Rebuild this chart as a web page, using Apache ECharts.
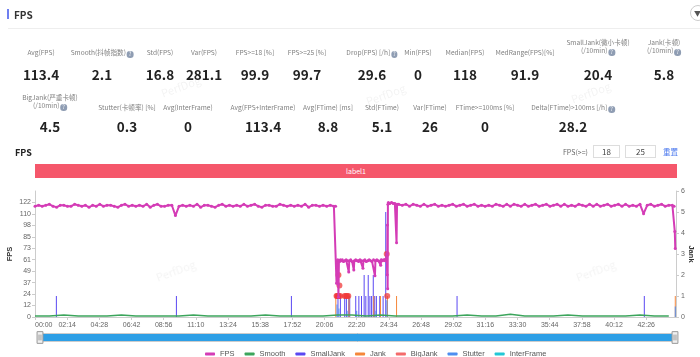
<!DOCTYPE html>
<html><head><meta charset="utf-8">
<script src="https://cdn.jsdelivr.net/npm/echarts@6/dist/echarts.min.js"></script>
<style>
html,body{margin:0;padding:0;width:700px;height:357px;background:#fff;overflow:hidden;font-family:"Noto Sans CJK SC","Open Sans",sans-serif;}
#chart{position:absolute;left:0;top:0;width:700px;height:357px;}
.ov{position:absolute;z-index:2;white-space:nowrap;}
.lab{font-size:6.6px;color:#808080;text-align:center;transform:translateX(-50%);line-height:8px;}
.val{font-size:13.5px;font-weight:bold;color:#222;text-align:center;transform:translate(-50%,-50%);}
.q{display:inline-block;width:6.5px;height:6.5px;border-radius:50%;background:#8f9db3;color:#fff;font-size:5.5px;line-height:6.5px;text-align:center;vertical-align:-1px;margin-left:1px;}
.wm{position:absolute;z-index:1;font-size:11px;color:rgba(0,0,0,0.05);transform:rotate(-20deg);}
</style></head>
<body>
<div id="chart"></div>
<div class="ov" style="left:7px;top:9px;width:2px;height:10px;background:#6f7ff0"></div>
<div class="ov" style="left:14px;top:7px;font-size:10px;font-weight:bold;color:#333">FPS</div>
<div class="ov" style="left:8px;top:28px;width:692px;height:1px;background:#eee"></div>
<div class="ov" style="left:690px;top:5px;width:14px;height:14px;border:1px solid #ccc;border-radius:50%;font-size:7px;line-height:14px;text-indent:3px;color:#555">▼</div>
<div id="stats"></div>
<div class="ov" style="left:15px;top:146px;font-size:9px;font-weight:bold;color:#222">FPS</div>
<div class="ov" style="left:563px;top:147px;font-size:7px;color:#666">FPS(&gt;=)</div>
<div class="ov" style="left:593px;top:145px;width:25px;height:11px;border:1px solid #ddd;font-size:8px;line-height:11px;text-align:center;color:#444">18</div>
<div class="ov" style="left:625px;top:145px;width:29px;height:11px;border:1px solid #ddd;font-size:8px;line-height:11px;text-align:center;color:#444">25</div>
<div class="ov" style="left:663px;top:146px;font-size:7.5px;color:#4a78ee">重置</div>
<div class="ov" style="left:35px;top:164px;width:642px;height:14px;background:#f5576b;color:#fff;font-size:7px;line-height:14px;text-align:center">label1</div>
<div class="wm" style="left:160px;top:78px">PerfDog</div>
<div class="wm" style="left:365px;top:86px">PerfDog</div>
<div class="wm" style="left:570px;top:84px">PerfDog</div>
<div class="wm" style="left:155px;top:262px">PerfDog</div>
<div class="wm" style="left:575px;top:262px">PerfDog</div>
<script>
// ---- stats ----
const statLabelsRow1 = ["Avg(FPS)","Smooth(抖帧指数)?","Std(FPS)","Var(FPS)","FPS>=18 [%]","FPS>=25 [%]","Drop(FPS) [/h]?","Min(FPS)","Median(FPS)","MedRange(FPS)[%]","SmallJank(微小卡顿)|(/10min)?","Jank(卡顿)|(/10min)?"];
const statValuesRow1 = ["113.4","2.1","16.8","281.1","99.9","99.7","29.6","0","118","91.9","20.4","5.8"];
const statLabelsRow2 = ["BigJank(严重卡顿)|(/10min)?","Stutter(卡顿率) [%]","Avg(InterFrame)","Avg(FPS+InterFrame)","Avg(FTime) [ms]","Std(FTime)","Var(FTime)","FTime>=100ms [%]","Delta(FTime)>100ms [/h]?"];
const statValuesRow2 = ["4.5","0.3","0","113.4","8.8","5.1","26","0","28.2"];

// ---- chart data ----
const fpsStep = 15;
const fpsSeg1Start = 0;
const fpsSeg1 = [118,119,118,119,120,118,117,119,119,118,
118,120,119,118,119,117,119,118,120,118,
119,119,118,117,119,120,118,119,118,119,
118,120,117,119,120,118,118,119,119,108,
118,119,118,119,118,120,117,119,119,118,
117,119,120,118,119,118,119,118,120,118,
119,120,118,117,119,119,118,118,120,119,
118,119,118,119,118,120,117,119,119,118,
119,118,119,118];
const fpsDrop = [[1252,118],[1256,36],[1258,58],[1261,61],[1263,35],[1264,21],[1266,60],[1269,59],[1272,61],[1276,60],[1280,61],[1285,59],[1290,60],[1296,61],[1302,60],[1307,48],[1309,60],[1315,61],[1321,59],[1328,50],[1330,60],[1336,61],[1342,60],[1348,59],[1354,61],[1360,60],[1366,52],[1368,60],[1374,61],[1380,59],[1386,60],[1392,61],[1398,60],[1404,59],[1410,61],[1416,44],[1418,60],[1424,61],[1430,60],[1436,59],[1440,55],[1442,61],[1448,60],[1454,61],[1459,60],[1463,62],[1465,67],[1467,45],[1468,98],[1469,30],[1470,120],[1472,122],[1478,121],[1485,122],[1492,121],[1499,121],[1506,79],[1508,120]];
const fpsSeg2Start = 1515;
const fpsSeg2 = [120,119,120,118,120,119,118,120,118,119,
120,118,119,118,119,120,118,119,120,118,
119,120,118,119,118,119,118,120,119,118,
120,118,120,119,118,120,118,119,120,118,
119,120,118,119,120,118,120,118,119,118,
120,119,118,120,118,120,118,119,120,118,
119,120,118,120,118,119,118,120,110,119,
120,118,119,120,118,119,119];
const fpsEnd = [[2662,118],[2665,91],[2667,73]];

const smoothStep = 60;
const smoothV = [1,1,2,1,1,1,2,1,1,1, 1,2,1,1,1,1,2,1,1,1, 1,2,2,1,2,1,1,1,1,1, 2,1,1,3,1,1,1,2,1,1, 1,1,2,1,1];

const smallJankT = [89,589,1068,1262,1272,1290,1297,1307,1311,1336,1349,1360,1371,1378,1388,1395,1402,1409,1415,1422,1436,1450,1461,1758,2538];
const smallJankV = [1,1,1,1,1,1,1,1,1,1,1,1,2,1,2,1,1,2,1,1,1,1,5,1,1];
const jankT = [1253,1308,1411,1439,1468,1506,2667];
const jankV = [1,1,1,1,1,1,1];
const bigJankT = [1256,1259,1262,1264,1266,1268,1271,1290,1295,1300,1305,1465,1467];
const bigJankV = [1,1,1,2,1,1.5,1,1,1,1,1,3,1];
const stutterT = [1258,1266,1300,1340,1420,1466,2667];
const stutterV = [0.6,0.4,0.3,0.3,0.3,0.8,0.5];
const interFrameV = [];

const xTickInterval = 134;
const xMax = 2670;

// ---- render stats ----
const st = document.getElementById('stats');
function lab(txt){
  return txt.split('|').map(s=>s.replace(/\?$/,'<span class="q">?</span>')).join('<br>');
}
function addRow(labels, values, xs, labY, labY2, valY){
  labels.forEach((l,i)=>{
    const d=document.createElement('div');
    d.className='ov lab';
    const two = l.indexOf('|')>=0;
    d.style.left=xs[i]+'px';
    d.style.top=(two?labY2:labY)+'px';
    d.innerHTML=lab(l);
    st.appendChild(d);
    const v=document.createElement('div');
    v.className='ov val';
    v.style.left=xs[i]+'px';
    v.style.top=valY+'px';
    v.textContent=values[i];
    st.appendChild(v);
  });
}
addRow(statLabelsRow1, statValuesRow1, [41,102,160,204,255,307,372,418,465,525,598,664], 48, 38, 74);
addRow(statLabelsRow2, statValuesRow2, [50,127,188,263,328,382,430,485,573], 103, 93, 126);

// ---- chart ----
const C = {fps:'#d43cb6', smooth:'#3ca55c', small:'#5a48f2', jank:'#f5873a', big:'#f03a3a', stutter:'#4d8ef0', inter:'#22c7d6'};
const fpsData = fpsSeg1.map((v,i)=>[fpsSeg1Start+i*fpsStep, v])
  .concat(fpsDrop)
  .concat(fpsSeg2.map((v,i)=>[fpsSeg2Start+i*fpsStep, v]))
  .concat(fpsEnd);
const smoothData = smoothV.map((v,i)=>[i*smoothStep, v]);
const pairs = (t,v)=>t.map((x,i)=>[x, v[i]]);
function fmt(v){const m=Math.floor(v/60), s=Math.round(v%60);return String(m).padStart(2,'0')+':'+String(s).padStart(2,'0');}
const axisCol='#ccc', labCol='#666';
const chart = echarts.init(document.getElementById('chart'));
chart.setOption({
  animation:false,
  grid:{left:35,right:24,top:191,bottom:40,containLabel:false,outerBoundsMode:'none'},
  legend:{left:200,top:345,itemWidth:10,itemHeight:3,itemGap:10,icon:'roundRect',
    textStyle:{fontSize:7.5,color:'#555'},
    data:['FPS','Smooth','SmallJank','Jank','BigJank','Stutter','InterFrame']},
  xAxis:{type:'value',min:0,max:xMax,interval:xTickInterval,
    axisLine:{lineStyle:{color:axisCol}},axisTick:{length:3,lineStyle:{color:axisCol}},
    axisLabel:{formatter:fmt,fontSize:7,color:labCol,margin:5,showMaxLabel:false,alignMinLabel:'left'},
    splitLine:{show:false}},
  yAxis:[
    {type:'value',min:0,max:134.2,interval:12.2,name:'FPS',nameLocation:'middle',nameGap:21,nameMoveOverlap:false,
     nameTextStyle:{fontSize:7.5,fontWeight:'bold',color:'#333'},
     axisLine:{show:true,lineStyle:{color:axisCol}},axisTick:{show:true,length:3,lineStyle:{color:axisCol}},
     axisLabel:{formatter:v=>Math.round(v),fontSize:7,color:labCol,margin:4,showMaxLabel:false},
     splitLine:{show:false}},
    {type:'value',min:0,max:6,interval:1,name:'Jank',nameLocation:'middle',nameGap:11,nameRotate:-90,nameMoveOverlap:false,
     nameTextStyle:{fontSize:7.5,fontWeight:'bold',color:'#333'},
     axisLine:{show:true,lineStyle:{color:axisCol}},axisTick:{show:true,length:3,lineStyle:{color:axisCol}},
     axisLabel:{fontSize:7,color:labCol,margin:5},
     splitLine:{show:false}}
  ],
  dataZoom:[{type:'slider',xAxisIndex:0,filterMode:'none',left:38,right:25,top:333,height:9,
    showDetail:false,showDataShadow:false,brushSelect:false,moveHandleSize:0,
    fillerColor:'#2d9fe6',backgroundColor:'#f2f2f2',borderColor:'#ccc',
    handleIcon:'path://M0,0 L6,0 L6,12 L0,12 Z M2,3 L2,9 M4,3 L4,9',handleSize:'130%',
    handleStyle:{color:'#f0f0f0',borderColor:'#999'}}],
  series:[
    {name:'FPS',type:'line',yAxisIndex:0,data:fpsData,symbol:'circle',symbolSize:3,showSymbol:true,showAllSymbol:true,
     lineStyle:{width:2,color:C.fps},itemStyle:{color:C.fps}},
    {name:'Smooth',type:'line',yAxisIndex:0,data:smoothData,showSymbol:false,lineStyle:{width:1.5,color:C.smooth},itemStyle:{color:C.smooth}},
    {name:'SmallJank',type:'bar',yAxisIndex:1,data:pairs(smallJankT,smallJankV),barWidth:1,barGap:'-100%',itemStyle:{color:C.small}},
    {name:'Jank',type:'bar',yAxisIndex:1,data:pairs(jankT,jankV),barWidth:1,barGap:'-100%',itemStyle:{color:C.jank}},
    {name:'BigJank',type:'scatter',yAxisIndex:1,data:pairs(bigJankT,bigJankV),symbolSize:6,itemStyle:{color:C.big,opacity:0.75}},
    {name:'Stutter',type:'bar',yAxisIndex:1,data:pairs(stutterT,stutterV),barWidth:1,barGap:'-100%',itemStyle:{color:C.stutter}},
    {name:'InterFrame',type:'line',yAxisIndex:0,data:interFrameV,showSymbol:false,lineStyle:{color:C.inter},itemStyle:{color:C.inter}}
  ]
});
</script>
</body></html>
